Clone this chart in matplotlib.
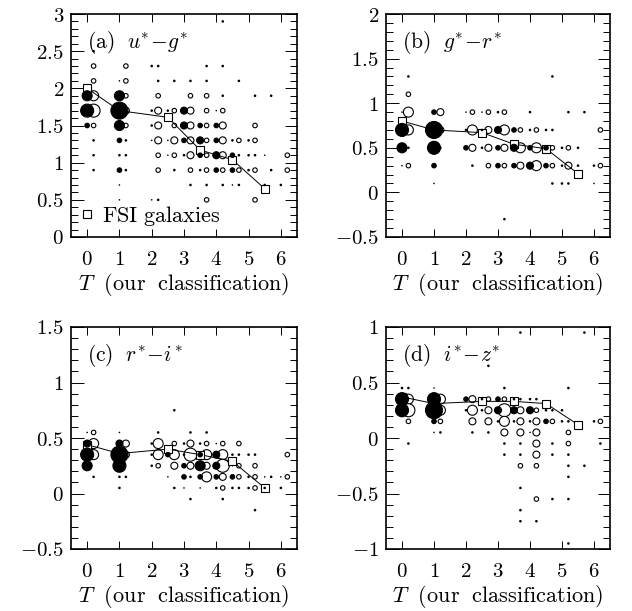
import matplotlib

matplotlib.use("Agg")
import matplotlib.pyplot as plt
from matplotlib.lines import Line2D
from matplotlib.ticker import FuncFormatter, MultipleLocator

plt.rcParams["mathtext.fontset"] = "cm"
plt.rcParams["font.family"] = "serif"
plt.rcParams["font.serif"] = ["DejaVu Serif"]

# ---------------------------------------------------------------------------
# Data: (T bin, colour bin, number of galaxies) for our classification.
# "filled" = one sample, "open" = the other (drawn offset right by 0.2 in T).
# ---------------------------------------------------------------------------

A_FILLED = [
    (2, 2.3, 1),
    (1, 2.1, 0.5),
    (0, 1.9, 4), (1, 1.9, 4),
    (0, 1.7, 5), (1, 1.7, 6), (2, 1.7, 1), (2.5, 1.7, 1), (3, 1.7, 3), (4, 1.7, 0.5),
    (0, 1.5, 2), (1, 1.5, 4), (2, 1.5, 1), (3, 1.5, 3), (3.5, 1.5, 2), (4, 1.5, 2),
    (1, 1.3, 2), (2, 1.3, 0.5), (2.5, 1.3, 0.5), (3, 1.3, 2), (3.5, 1.3, 3), (4, 1.3, 2),
    (4.5, 1.3, 1), (5, 1.3, 1),
    (1, 1.1, 1), (2.5, 1.1, 0.5), (3, 1.1, 1), (3.5, 1.1, 2), (4, 1.1, 3), (4.5, 1.1, 2),
    (5, 1.1, 1), (5.5, 1.1, 0.5),
    (1, 0.9, 2), (3.5, 0.9, 1), (4, 0.9, 2), (4.5, 0.9, 2), (5, 0.9, 1),
    (1, 0.7, 0.5), (4.5, 0.7, 0.5), (5.5, 0.7, 1), (6, 0.7, 1),
    (1, 0.5, 0.5), (2, 0.5, 0.5),
]
A_OPEN = [
    (4, 2.9, 1), (0, 2.5, 1),
    (0, 2.3, 2), (1, 2.3, 2), (2, 2.3, 1), (3.5, 2.3, 1), (4, 2.3, 1),
    (0, 2.1, 2), (1, 2.1, 2), (2, 2.1, 1), (2.5, 2.1, 1), (3, 2.1, 1), (3.5, 2.1, 1), (4.5, 2.1, 1),
    (0, 1.9, 4), (1, 1.9, 2), (2, 1.9, 2), (3, 1.9, 2), (3.5, 1.9, 2), (4, 1.9, 1),
    (5, 1.9, 1), (5.5, 1.9, 1),
    (0, 1.7, 5), (1, 1.7, 3), (2, 1.7, 3), (2.5, 1.7, 2), (3, 1.7, 3), (3.5, 1.7, 2), (4, 1.7, 2),
    (0, 1.5, 2), (1, 1.5, 2), (2, 1.5, 3), (2.5, 1.5, 2), (3, 1.5, 3), (3.5, 1.5, 2),
    (4, 1.5, 3), (5, 1.5, 2),
    (0, 1.3, 1), (1, 1.3, 1), (2, 1.3, 3), (2.5, 1.3, 3), (3, 1.3, 3), (3.5, 1.3, 2),
    (4, 1.3, 3), (4.5, 1.3, 2), (5, 1.3, 2),
    (0, 1.1, 1), (1, 1.1, 1), (2, 1.1, 2), (2.5, 1.1, 2), (3, 1.1, 3), (3.5, 1.1, 2),
    (4, 1.1, 3), (4.5, 1.1, 1), (5, 1.1, 1), (6, 1.1, 2),
    (0, 0.9, 1), (1, 0.9, 1), (2, 0.9, 2), (2.5, 0.9, 1), (3, 0.9, 2), (3.5, 0.9, 2),
    (4, 0.9, 2), (4.5, 0.9, 2), (5, 0.9, 2), (5.5, 0.9, 1), (6, 0.9, 2),
    (3, 0.7, 1), (3.5, 0.7, 1), (4, 0.7, 1), (4.5, 0.7, 1),
    (2, 0.5, 1), (3.5, 0.5, 2), (5, 0.5, 2),
]

B_FILLED = [
    (0, 0.9, 0.5), (1, 0.9, 2), (2, 0.9, 0.5), (2.5, 0.9, 0.5), (3, 0.9, 1), (4, 0.9, 1),
    (0, 0.7, 5), (1, 0.7, 6), (2, 0.7, 1), (2.5, 0.7, 1), (3, 0.7, 3), (3.5, 0.7, 2),
    (4, 0.7, 1), (4.5, 0.7, 1),
    (0, 0.5, 4), (1, 0.5, 5), (2, 0.5, 2), (2.5, 0.5, 1), (3, 0.5, 2), (3.5, 0.5, 3),
    (4, 0.5, 2), (4.5, 0.5, 2), (5, 0.5, 1), (5.5, 0.5, 1),
    (0, 0.3, 0.5), (1, 0.3, 2), (3, 0.3, 2), (3.5, 0.3, 2), (4, 0.3, 3), (4.5, 0.3, 2),
    (5, 0.3, 1), (5.5, 0.3, 1), (6, 0.3, 1),
    (1, 0.1, 0.5), (5, 0.1, 1), (6, 0.1, 0.5),
]
B_OPEN = [
    (0, 1.3, 1), (4.5, 1.3, 1),
    (0, 1.1, 2),
    (0, 0.9, 4), (1, 0.9, 3), (2, 0.9, 2), (2.5, 0.9, 2), (3, 0.9, 2), (5, 0.9, 1), (5.5, 0.9, 1),
    (0, 0.7, 4), (1, 0.7, 3), (2, 0.7, 4), (2.5, 0.7, 3), (3, 0.7, 4), (3.5, 0.7, 2),
    (4, 0.7, 2), (4.5, 0.7, 1), (6, 0.7, 2),
    (0, 0.5, 1), (1, 0.5, 1), (2, 0.5, 3), (2.5, 0.5, 3), (3, 0.5, 3), (3.5, 0.5, 4),
    (4, 0.5, 4), (4.5, 0.5, 2), (5, 0.5, 2),
    (0, 0.3, 2), (2, 0.3, 1), (2.5, 0.3, 2), (3, 0.3, 2), (3.5, 0.3, 3), (4, 0.3, 4),
    (4.5, 0.3, 2), (5, 0.3, 3), (6, 0.3, 2),
    (4.5, 0.1, 1), (5, 0.1, 1),
    (3, -0.3, 1),
]

C_FILLED = [
    (0, 0.55, 0.5), (1, 0.55, 0.5),
    (0, 0.45, 3), (1, 0.45, 3), (2, 0.45, 1), (3, 0.45, 1), (3.5, 0.45, 1), (4, 0.45, 0.5),
    (0, 0.35, 5), (1, 0.35, 6), (2, 0.35, 1), (2.5, 0.35, 2), (3, 0.35, 1), (3.5, 0.35, 2),
    (4, 0.35, 3), (4.5, 0.35, 1), (5, 0.35, 1),
    (0, 0.25, 4), (1, 0.25, 5), (2, 0.25, 1), (3, 0.25, 2), (3.5, 0.25, 4), (4, 0.25, 3),
    (4.5, 0.25, 0.5),
    (1, 0.15, 1), (2.5, 0.15, 0.5), (3, 0.15, 2), (3.5, 0.15, 2), (4, 0.15, 2), (4.5, 0.15, 2),
    (5, 0.15, 1), (5.5, 0.15, 0.5), (6, 0.15, 0.5),
    (1, 0.05, 1), (3, 0.05, 0.5), (3.5, 0.05, 0.5), (4, 0.05, 1), (4.5, 0.05, 1),
    (5, 0.05, 1), (5.5, 0.05, 1), (6, 0.05, 1),
]
C_OPEN = [
    (2.5, 0.75, 1),
    (0, 0.55, 2), (2, 0.55, 1), (3, 0.55, 1), (3.5, 0.55, 1),
    (0, 0.45, 4), (1, 0.45, 3), (2, 0.45, 4), (2.5, 0.45, 2), (3, 0.45, 3), (3.5, 0.45, 2),
    (4, 0.45, 2), (4.5, 0.45, 2),
    (0, 0.35, 4), (1, 0.35, 3), (2, 0.35, 4), (2.5, 0.35, 4), (3, 0.35, 5), (3.5, 0.35, 4),
    (4, 0.35, 4), (4.5, 0.35, 1), (5, 0.35, 1), (6, 0.35, 2),
    (2, 0.25, 2), (2.5, 0.25, 3), (3, 0.25, 3), (3.5, 0.25, 3), (4, 0.25, 5), (4.5, 0.25, 2),
    (5, 0.25, 2),
    (0, 0.15, 1), (1, 0.15, 1), (3, 0.15, 1), (3.5, 0.15, 4), (4, 0.15, 3), (4.5, 0.15, 2),
    (5, 0.15, 2), (5.5, 0.15, 1), (6, 0.15, 2),
    (2.5, 0.05, 1), (4, 0.05, 2), (4.5, 0.05, 1), (5, 0.05, 2),
    (3, -0.05, 1), (4, -0.05, 1),
    (5, -0.15, 1),
]

D_FILLED = [
    (0, 0.45, 1), (1, 0.45, 0.5),
    (0, 0.35, 5), (1, 0.35, 5), (2, 0.35, 2), (2.5, 0.35, 1), (3, 0.35, 2), (3.5, 0.35, 1),
    (4, 0.35, 1),
    (0, 0.25, 5), (1, 0.25, 6), (2, 0.25, 1), (2.5, 0.25, 1), (3, 0.25, 3), (3.5, 0.25, 3),
    (4, 0.25, 3), (4.5, 0.25, 1), (5, 0.25, 1),
    (1, 0.15, 2), (3, 0.15, 1), (3.5, 0.15, 1), (4, 0.15, 1), (4.5, 0.15, 2), (5, 0.15, 1),
    (6, 0.15, 1),
    (1, 0.05, 0.5), (4, 0.05, 0.5),
]
D_OPEN = [
    (3.5, 0.95, 1), (5.5, 0.95, 1),
    (2.5, 0.65, 1),
    (0, 0.45, 1), (3, 0.45, 1), (5, 0.45, 1),
    (0, 0.35, 4), (1, 0.35, 4), (2, 0.35, 3), (2.5, 0.35, 2), (3, 0.35, 2), (3.5, 0.35, 1),
    (4, 0.35, 1),
    (0, 0.25, 5), (1, 0.25, 4), (2, 0.25, 4), (2.5, 0.25, 3), (3, 0.25, 5), (3.5, 0.25, 3),
    (4, 0.25, 2), (4.5, 0.25, 1),
    (0, 0.15, 2), (1, 0.15, 2), (2, 0.15, 3), (2.5, 0.15, 3), (3, 0.15, 4), (3.5, 0.15, 3),
    (4, 0.15, 3), (4.5, 0.15, 2), (5, 0.15, 1), (6, 0.15, 2),
    (1, 0.05, 1), (2, 0.05, 1), (2.5, 0.05, 1), (3, 0.05, 3), (3.5, 0.05, 3), (4, 0.05, 3),
    (5, 0.05, 2),
    (0, -0.05, 1), (3, -0.05, 1), (3.5, -0.05, 1), (4, -0.05, 3), (4.5, -0.05, 1),
    (5, -0.05, 2), (6, -0.05, 1),
    (3, -0.15, 1), (3.5, -0.15, 1), (4, -0.15, 3), (4.5, -0.15, 1), (5, -0.15, 1),
    (3.5, -0.25, 2), (4, -0.25, 2), (5, -0.25, 1), (5.5, -0.25, 1),
    (5, -0.35, 1),
    (3.5, -0.45, 1),
    (4, -0.55, 2), (4.5, -0.55, 1), (5, -0.55, 1),
    (3.5, -0.65, 1),
    (3.5, -0.75, 1), (4, -0.75, 1),
    (5, -0.95, 1),
]

# FSI galaxies: mean colour per T
FSI_T = [0, 1, 2.5, 3.5, 4.5, 5.5]
FSI_A = [2.00, 1.70, 1.61, 1.17, 1.04, 0.65]
FSI_B = [0.80, 0.70, 0.67, 0.54, 0.49, 0.21]
FSI_C = [0.44, 0.36, 0.40, 0.35, 0.29, 0.05]
FSI_D = [0.37, 0.31, 0.33, 0.33, 0.31, 0.12]

PANELS = [
    ("a", r"$\mathrm{(a)}\ \ u^{*}\!-\!g^{*}$", A_FILLED, A_OPEN, FSI_A, (0, 3)),
    ("b", r"$\mathrm{(b)}\ \ g^{*}\!-\!r^{*}$", B_FILLED, B_OPEN, FSI_B, (-0.5, 2)),
    ("c", r"$\mathrm{(c)}\ \ r^{*}\!-\!i^{*}$", C_FILLED, C_OPEN, FSI_C, (-0.5, 1.5)),
    ("d", r"$\mathrm{(d)}\ \ i^{*}\!-\!z^{*}$", D_FILLED, D_OPEN, FSI_D, (-1, 1)),
]

# ---------------------------------------------------------------------------
# Drawing
# ---------------------------------------------------------------------------

OPEN_SHIFT = 0.2
DIAM_PX = {0.5: 1.6, 1: 2.6, 2: 4.5, 3: 7.0, 4: 10.0, 5: 13.0, 6: 17.0}
DPI = 100


def _area(n):
    d_pt = DIAM_PX[n] * 72 / DPI
    return d_pt ** 2


def draw_points(ax, pts, shift, filled):
    dots = [p for p in pts if p[2] <= 1]
    circ = [p for p in pts if p[2] > 1]
    z = 4 if filled else 2
    if circ:
        ax.scatter([p[0] + shift for p in circ], [p[1] for p in circ],
                   s=[_area(p[2]) for p in circ],
                   facecolor="black" if filled else "white",
                   edgecolor="black", linewidths=0.8, zorder=z)
    if dots:
        ax.scatter([p[0] + shift for p in dots], [p[1] for p in dots],
                   s=[_area(p[2]) for p in dots], facecolor="black",
                   edgecolor="none", zorder=z)


fig = plt.figure(figsize=(6.32, 6.11), dpi=DPI)
W, H = 632, 611
boxes = {
    "a": (71, 14, 226, 223),
    "b": (386, 14, 224, 223),
    "c": (71, 327, 226, 222),
    "d": (386, 327, 224, 222),
}

fmt = FuncFormatter(lambda v, _: f"${v:g}$")
XLABEL = r"$T\ \ \mathrm{(our\ \ classification)}$"

for key, title, filled, opened, fsi, ylim in PANELS:
    x0, y0, w, h = boxes[key]
    ax = fig.add_axes([x0 / W, 1 - (y0 + h) / H, w / W, h / H])
    draw_points(ax, opened, OPEN_SHIFT, False)
    ax.plot(FSI_T, fsi, color="black", lw=0.7, marker="s", ms=6.2,
            mfc="white", mec="black", mew=0.8, zorder=3)
    draw_points(ax, filled, 0.0, True)

    ax.set_xlim(-0.5, 6.5)
    ax.set_ylim(*ylim)
    ax.xaxis.set_major_locator(MultipleLocator(1))
    ax.yaxis.set_major_locator(MultipleLocator(0.5))
    ax.yaxis.set_minor_locator(MultipleLocator(0.1))
    ax.xaxis.set_major_formatter(fmt)
    ax.yaxis.set_major_formatter(fmt)
    ax.tick_params(which="both", direction="in", top=True, right=True,
                   labelsize=15, width=0.7)
    ax.tick_params(axis="x", which="major", length=5.5, pad=9.5)
    ax.tick_params(axis="y", which="major", length=9, pad=5)
    ax.tick_params(axis="y", which="minor", length=5)
    for sp in ax.spines.values():
        sp.set_linewidth(1.2)
    ax.set_xlabel(XLABEL, fontsize=16, labelpad=1)
    ax.text(0.07, 0.872, title, transform=ax.transAxes, fontsize=15.5,
            ha="left", va="center")

    if key == "a":
        handle = Line2D([], [], ls="none", marker="s", ms=6, mfc="white",
                        mec="black", mew=0.8)
        ax.legend([handle], [r"$\mathrm{FSI\ galaxies}$"], loc="lower left",
                  frameon=False, fontsize=16, handlelength=0.6,
                  handletextpad=0.4, borderaxespad=0.2, borderpad=0.2)

fig.savefig("out.png", dpi=DPI)
